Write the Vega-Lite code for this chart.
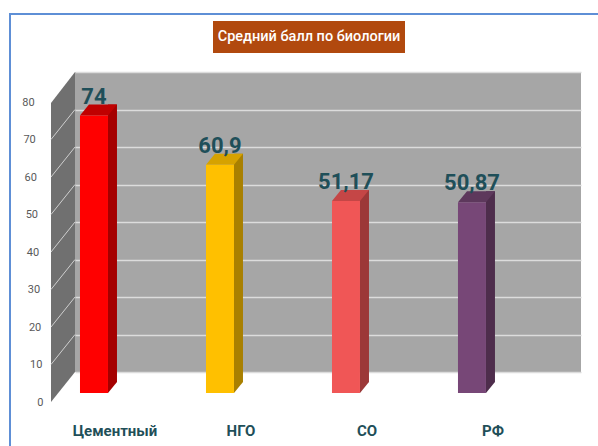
{
  "$schema": "https://vega.github.io/schema/vega-lite/v6.json",
  "width": 506,
  "height": 300,
  "autosize": {"type": "none"},
  "padding": {"left": 75, "top": 72, "right": 17, "bottom": 74},
  "background": "white",
  "config": {
    "view": {"fill": "#A6A6A6", "stroke": null},
    "locale": {"number": {"decimal": ",", "thousands": "\u00a0", "grouping": [3], "currency": ["", "\u00a0₽"]}},
    "axisY": {
      "values": [0, 10, 20, 30, 40, 50, 60, 70, 80], "domain": false, "ticks": false,
      "grid": true, "gridColor": "#DCDCDC", "gridWidth": 1.5,
      "labelFont": "Roboto", "labelFontSize": 11,
      "labelColor": "#595959", "labelPadding": {"expr": "32 + datum.value * 0.11"}, "labelOffset": 30
    }
  },
  "datasets": {
    "scores": [
      {"cat": "Цементный", "v": 74},
      {"cat": "НГО", "v": 60.9},
      {"cat": "СО", "v": 51.17},
      {"cat": "РФ", "v": 50.87}
    ],
    "levels": [{"lvl": 10}, {"lvl": 20}, {"lvl": 30}, {"lvl": 40}, {"lvl": 50}, {"lvl": 60}, {"lvl": 70}],
    "one": [{"t": "Средний балл по биологии"}]
  },
  "data": {"name": "scores"},
  "encoding": {
    "x": {
      "field": "cat", "type": "nominal", "sort": null, "title": null,
      "scale": {"paddingInner": 0.778, "paddingOuter": 0.397, "align": 0.05},
      "axis": {
        "domain": false, "ticks": false, "grid": false, "labelAngle": 0,
        "labelFont": "Roboto",
        "labelFontSize": 15, "labelFontWeight": "bold", "labelColor": "#1F4F59",
        "labelOffset": 21, "labelPadding": 51, "labelBaseline": "top", "labelOverlap": false, "labelLimit": 0
      }
    }
  },
  "layer": [
    {
      "data": {"name": "one"},
      "mark": {"type": "rect", "fill": "transparent", "stroke": "#5E8FD6", "strokeWidth": 2},
      "encoding": {"x": {"value": -65}, "x2": {"value": 600}, "y": {"value": -58}, "y2": {"value": 420}}
    },
    {
      "data": {"name": "one"},
      "mark": {"type": "rect", "fill": "#B1490E"},
      "encoding": {"x": {"value": 138}, "x2": {"value": 330}, "y": {"value": -51}, "y2": {"value": -19}}
    },
    {
      "data": {"name": "one"},
      "mark": {"type": "text", "color": "white", "fontSize": 14.5, "font": "Roboto", "fontWeight": 500, "baseline": "middle", "align": "center"},
      "encoding": {"x": {"value": 234}, "y": {"value": -35}, "text": {"field": "t"}}
    },
    {
      "data": {"name": "one"},
      "mark": {"type": "point", "filled": true, "opacity": 1, "strokeWidth": 0, "size": 40000, "color": "#707070",
        "shape": "M-0.12,-1.3425L0.12,-1.6525L0.12,1.3475L-0.12,1.6475Z"},
      "encoding": {"x": {"value": -12}, "y": {"value": 165.25}}
    },
    {
      "data": {"name": "levels"},
      "mark": {"type": "rule", "color": "#CFCFCF", "strokeWidth": 1, "yOffset": 30},
      "encoding": {
        "x": {"value": -24}, "x2": {"value": 0},
        "y": {"field": "lvl", "type": "quantitative", "title": null},
        "y2": {"field": "lvl"}
      }
    },
    {
      "mark": {"type": "bar", "width": 9, "xOffset": 18.5, "yOffset": 10, "y2Offset": 10},
      "encoding": {
        "y": {"field": "v", "type": "quantitative", "title": null},
        "y2": {"datum": 0},
        "color": {"field": "cat", "type": "nominal", "legend": null,
          "scale": {"domain": ["Цементный", "НГО", "СО", "РФ"], "range": ["#A50000", "#A98000", "#9C3838", "#4E2D4C"]}}
      }
    },
    {
      "mark": {"type": "point", "filled": true, "opacity": 1, "strokeWidth": 0, "size": 40000, "xOffset": 14, "yOffset": 10,
        "shape": "M0,0L0.09,0L0,0.11Z"},
      "encoding": {
        "y": {"datum": 0, "type": "quantitative", "title": null},
        "color": {"field": "cat", "type": "nominal", "legend": null,
          "scale": {"domain": ["Цементный", "НГО", "СО", "РФ"], "range": ["#A50000", "#A98000", "#9C3838", "#4E2D4C"]}}
      }
    },
    {
      "mark": {"type": "point", "filled": true, "opacity": 1, "strokeWidth": 0, "size": 40000, "yOffset": 21,
        "shape": "M-0.14,0L0.14,0L0.23,-0.11L-0.05,-0.11Z"},
      "encoding": {
        "y": {"field": "v", "type": "quantitative", "title": null},
        "color": {"field": "cat", "type": "nominal", "legend": null,
          "scale": {"domain": ["Цементный", "НГО", "СО", "РФ"], "range": ["#C00000", "#D6A200", "#C54646", "#5D385C"]}}
      }
    },
    {
      "mark": {"type": "bar", "width": 28, "yOffset": 21, "y2Offset": 21},
      "encoding": {
        "y": {
          "field": "v", "type": "quantitative", "title": null,
          "scale": {"domain": [0, 80], "nice": false, "zero": true}
        },
        "y2": {"datum": 0},
        "color": {"field": "cat", "type": "nominal", "legend": null,
          "scale": {"domain": ["Цементный", "НГО", "СО", "РФ"], "range": ["#FF0000", "#FFC000", "#F05656", "#774777"]}}
      }
    },
    {
      "mark": {"type": "text", "dy": 9, "baseline": "alphabetic", "align": "center", "color": "#1F4F59",
        "font": "Roboto", "fontSize": 22, "fontWeight": "bold"},
      "encoding": {
        "y": {"field": "v", "type": "quantitative", "title": null},
        "text": {"field": "v", "type": "quantitative", "format": ".2~f"}
      }
    }
  ],
  "resolve": {"scale": {"color": "independent"}}
}
